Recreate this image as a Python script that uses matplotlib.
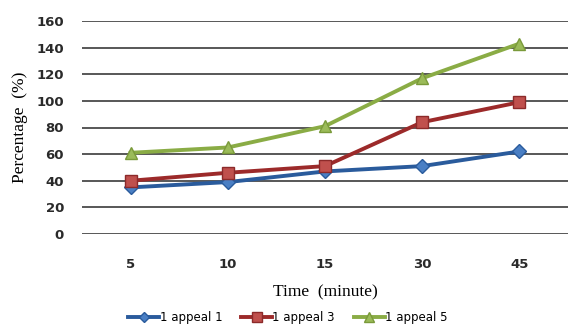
import numpy as np
import matplotlib.pyplot as plt
from matplotlib.lines import Line2D

# Data
times = ['5', '10', '15', '30', '45']
appeal1 = [35, 39, 47, 51, 62]
appeal3 = [40, 46, 51, 84, 99]
appeal5 = [61, 65, 81, 117, 143]

fig = plt.figure(figsize=(5.68, 3.27), dpi=100)
ax = fig.add_axes([82 / 568, 1 - 234 / 327, 486 / 568, 213 / 327])

x = np.arange(len(times))
ax.plot(x, appeal1, color='#2a5b9c', lw=2.8, marker='D', ms=7,
        mfc='#4a7fc4', mec='#2a5b9c', label='1 appeal 1')
ax.plot(x, appeal3, color='#9c2a2a', lw=2.8, marker='s', ms=9,
        mfc='#c0504d', mec='#8c2a2a', label='1 appeal 3')
ax.plot(x, appeal5, color='#8aac45', lw=2.8, marker='^', ms=9,
        mfc='#9bbb59', mec='#7a9a3a', label='1 appeal 5')

ax.set_ylim(0, 160)
ax.set_xlim(-0.5, 4.5)
ax.set_yticks(np.arange(0, 161, 20))
ax.set_xticks(x)
ax.set_xticklabels(times)
ax.yaxis.grid(True, color='#4a4a4a', lw=1.3)
ax.set_axisbelow(True)
for s in ax.spines.values():
    s.set_visible(False)
ax.tick_params(axis='y', length=0, labelsize=9.5, pad=13)
ax.tick_params(axis='x', length=0, labelsize=9.5, pad=17)
for lab in ax.get_xticklabels() + ax.get_yticklabels():
    lab.set_fontweight('bold')
    lab.set_color('#2a2a2a')

ax.set_ylabel('Percentage  (%)', family='Liberation Serif', fontsize=12.5, labelpad=6)
ax.set_xlabel('Time  (minute)', family='Liberation Serif', fontsize=12.5, labelpad=10)

handles = [
    Line2D([], [], color='#2a5b9c', lw=2.8, marker='D', ms=5, mfc='#4a7fc4', mec='#2a5b9c'),
    Line2D([], [], color='#9c2a2a', lw=2.8, marker='s', ms=7, mfc='#c0504d', mec='#8c2a2a'),
    Line2D([], [], color='#8aac45', lw=2.8, marker='^', ms=7, mfc='#9bbb59', mec='#7a9a3a'),
]
fig.legend(handles, ['1 appeal 1', '1 appeal 3', '1 appeal 5'], loc='center',
           bbox_to_anchor=(288 / 568, 1 - 318 / 327), ncol=3, frameon=False,
           fontsize=8.5, handlelength=2.6, handletextpad=0.05, columnspacing=1.6)

fig.savefig('out.png', dpi=100)
